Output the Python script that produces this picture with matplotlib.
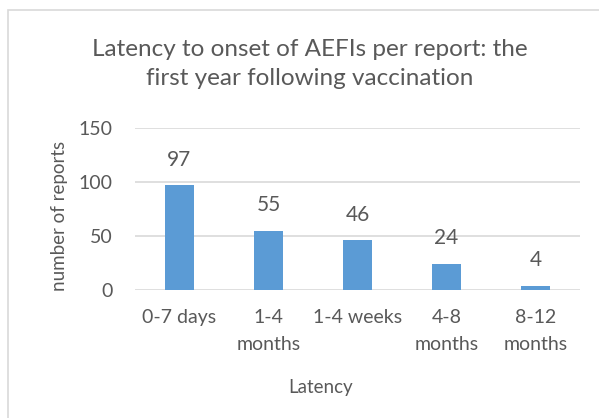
import matplotlib
matplotlib.use("Agg")
import matplotlib.pyplot as plt
from matplotlib.patches import Rectangle

categories = ["0-7 days", "1-4\nmonths", "1-4 weeks", "4-8\nmonths", "8-12\nmonths"]
values = [97, 55, 46, 24, 4]
yticks = [0, 50, 100, 150]

TXT = "#595959"
plt.rcParams['font.family'] = ['Lato', 'DejaVu Sans']

W, H = 599, 418
fig = plt.figure(figsize=(W / 100, H / 100), dpi=100)
fig.patch.set_facecolor("white")

# chart border
fig.patches.append(Rectangle((8 / W, -0.1), 1.2, 1 - 10 / H + 0.1, transform=fig.transFigure,
                             fill=False, edgecolor="#D9D9D9", linewidth=1.2))

ax = fig.add_axes([135 / W, 1 - 290 / H, 445 / W, 162 / H])
x = list(range(len(categories)))
ax.bar(x, values, width=0.315, color="#5B9BD5", zorder=3)
ax.set_xlim(-0.5, len(categories) - 0.5)
ax.set_ylim(0, 150)
ax.set_yticks(yticks)
ax.set_xticks(x)
ax.set_xticklabels(categories, linespacing=1.65)
for s in ax.spines.values():
    s.set_visible(False)
ax.grid(axis="y", color="#D9D9D9", linewidth=1.2, zorder=0)
ax.tick_params(axis="both", length=0, labelsize=14, labelcolor=TXT)
ax.tick_params(axis="x", pad=14)
ax.tick_params(axis="y", pad=16)

for xi, v in zip(x, values):
    ax.annotate(str(v), (xi, v), xytext=(0, 18.5), textcoords="offset points",
                ha="center", va="center", fontsize=15, color=TXT)

ax.set_ylabel("number of reports", fontsize=13.5, color=TXT)
ax.yaxis.set_label_coords(-0.15, 0.457)
ax.set_xlabel("Latency", fontsize=13.5, color=TXT)
ax.xaxis.set_label_coords(0.418, -0.55)

fig.text(310 / W, 1 - 64 / H, "Latency to onset of AEFIs per report: the\nfirst year following vaccination",
         ha="center", va="center", fontsize=17.5, color=TXT, linespacing=1.5)

fig.savefig("out.png", dpi=100, facecolor="white")
